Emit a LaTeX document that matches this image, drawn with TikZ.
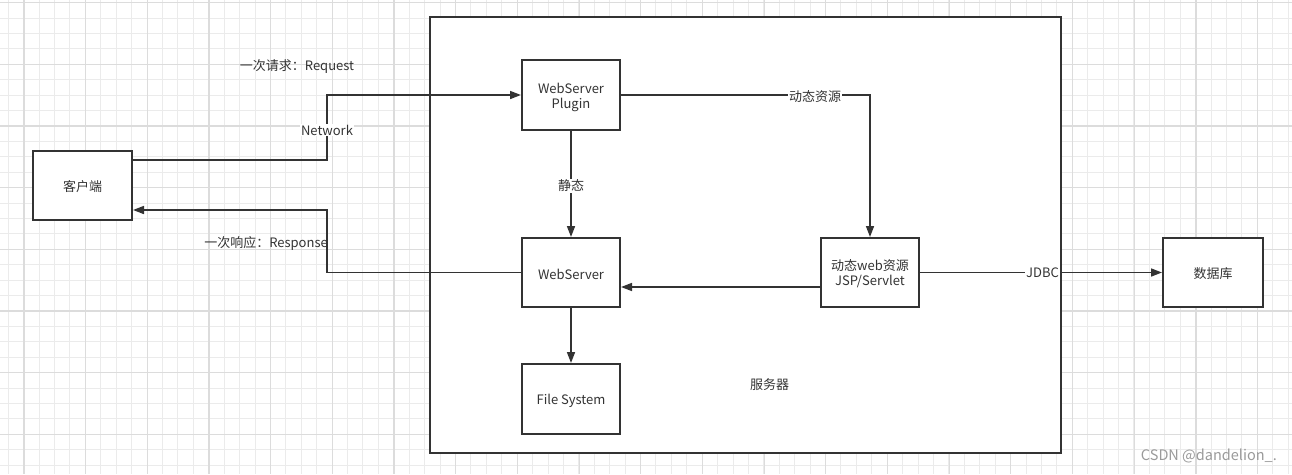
\documentclass[tikz,border=0pt]{standalone}
\usepackage{fontspec}
\setmainfont{Noto Sans CJK SC}
\usetikzlibrary{arrows.meta}
\definecolor{ink}{HTML}{333333}
\definecolor{gminor}{HTML}{EBEBEB}
\definecolor{gmajor}{HTML}{DCDCDC}
\definecolor{wm}{HTML}{9A9A9A}
\tikzset{
  box/.style={draw=ink, line width=2pt, fill=white, inner sep=0pt, align=center, text=ink, font=\fontsize{13}{15}\selectfont},
  conn/.style={draw=ink, line width=1.6pt},
  arr/.style={conn, -{Triangle[length=11pt,width=8pt]}},
  lbl/.style={text=ink, font=\fontsize{13}{15}\selectfont, inner sep=1pt},
  wlbl/.style={lbl, fill=white},
  minorline/.style={draw=gminor, line width=1pt},
  majorline/.style={draw=gmajor, line width=1.2pt}
}
\begin{document}
\begin{tikzpicture}[x=1pt, y=-1pt]
\useasboundingbox (0,0) rectangle (1292,474);
\fill[white] (0,0) rectangle (1292,474);
% grid
\foreach \i in {0,...,84} {\draw[minorline] ({8.3+15.42*\i},0) -- ({8.3+15.42*\i},474);}
\foreach \i in {0,...,31} {\draw[minorline] (0,{2.6+15.42*\i}) -- (1292,{2.6+15.42*\i});}
\foreach \i in {0,...,21} {\draw[majorline] ({24+61.68*\i},0) -- ({24+61.68*\i},474);}
\foreach \i in {0,...,7} {\draw[majorline] (0,{2.6+61.68*\i}) -- (1292,{2.6+61.68*\i});}
% server container
\node[box, minimum width=631pt, minimum height=436pt] (srv) at (745.5,235) {};
\node[lbl] (srvlbl) at (769.5,385) {服务器};
% boxes
\node[box, minimum width=99pt, minimum height=69pt] (cl) at (82.5,185.5) {};
\node[lbl] (cltx) at (82.5,187) {客户端};
\node[box, minimum width=98pt, minimum height=70pt] (pl) at (571,95) {};
\node[lbl, align=center] (pltx) at (571,97) {WebServer\\Plugin};
\node[box, minimum width=98pt, minimum height=69pt] (ws) at (571,272.5) {};
\node[lbl] (wstx) at (571,274) {WebServer};
\node[box, minimum width=98pt, minimum height=70pt] (fs) at (571,399) {};
\node[lbl] (fstx) at (571,400.5) {File System};
\node[box, minimum width=98pt, minimum height=69pt] (dyn) at (870,272.5) {};
\node[lbl, align=center] (dyntx) at (870,274) {动态web资源\\JSP/Servlet};
\node[box, minimum width=100pt, minimum height=69pt] (db) at (1213,272.5) {};
\node[lbl] (dbtx) at (1213,274) {数据库};
% request
\coordinate (rq) at (327,95);
\draw[arr] ([yshift=25.5pt]cl.east) -| (rq) -- (pl.west);
\node[wlbl] (net) at (327,130) {Network};
\node[lbl] (reqlbl) at (297,67) {一次请求：Request};
% response
\coordinate (rs) at (327,210);
\draw[arr] (ws.west) -| (rs) -- (cl.east |- rs);
\node[lbl, anchor=east] (reslbl) at (329,243) {一次响应：Response};
% static
\draw[arr] (pl.south) -- (ws.north);
\node[wlbl] (stlbl) at (571,186) {静态};
% dynamic
\draw[arr] (pl.east) -| (dyn.north);
\node[wlbl] (dylbl) at (815,97) {动态资源};
\draw[arr] ([yshift=-14.5pt]dyn.west) -- ([yshift=-14.5pt]dyn.west -| ws.east);
% jdbc
\draw[arr] (dyn.east) -- (db.west);
\node[wlbl] (jdbc) at (1042.5,273) {JDBC};
% file system
\draw[arr] (ws.south) -- (fs.north);
% watermark
\node[text=wm, font=\fontsize{14.5}{16}\selectfont, anchor=east, inner sep=0pt] (wmk) at (1277,456) {CSDN @dandelion\_.};
\end{tikzpicture}
\end{document}
